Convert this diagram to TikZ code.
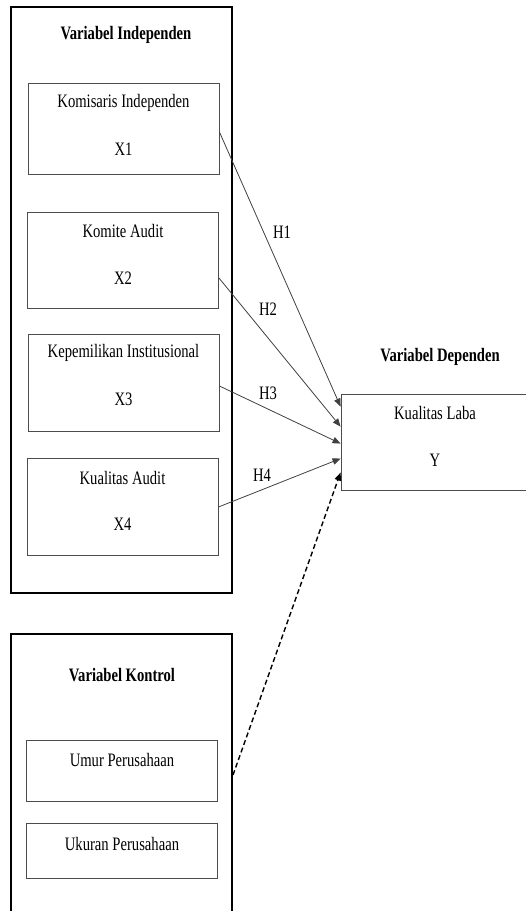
\documentclass[tikz,border=0pt]{standalone}
\usepackage{fontspec}
\setmainfont[FakeStretch=0.77]{Liberation Serif}
\usetikzlibrary{arrows.meta}
\begin{document}
\begin{tikzpicture}[x=1pt,y=-1pt,
  outerbox/.style={draw=black,line width=2pt,minimum width=221pt,inner sep=0pt},
  varbox/.style={draw=black!70,line width=0.9pt,minimum width=191pt,inner sep=0pt},
  txt/.style={inner sep=0pt,font=\fontsize{19}{22}\selectfont},
  ttl/.style={inner sep=0pt,font=\fontsize{19}{22}\selectfont\bfseries},
  arr/.style={draw=black!75,line width=0.8pt,-{Triangle[length=8pt,width=6.5pt]}},
  darr/.style={draw=black,line width=1.4pt,dash pattern=on 5pt off 3pt,-{Triangle[length=8pt,width=6.5pt]}}
]
\useasboundingbox (0,0) rectangle (526,911);
\clip (0,0) rectangle (526,911);

% Variabel Independen
\node[outerbox,minimum height=586pt] (ind) at (121.5,300) {};
\node[ttl] (indt) at (126,35) {Variabel Independen};

\node[varbox,minimum height=91pt] (x1) at (123.5,128.5) {};
\node[txt] (x1a) at (123.5,103) {Komisaris Independen};
\node[txt] (x1b) at (123.5,149) {X1};

\node[varbox,minimum height=96pt] (x2) at (123,260) {};
\node[txt] (x2a) at (123,231) {Komite Audit};
\node[txt] (x2b) at (123,278) {X2};

\node[varbox,minimum height=97pt] (x3) at (123.5,382.5) {};
\node[txt] (x3a) at (123.5,353) {Kepemilikan Institusional};
\node[txt] (x3b) at (123.5,399) {X3};

\node[varbox,minimum height=97pt] (x4) at (122.5,506.5) {};
\node[txt] (x4a) at (122.5,478) {Kualitas Audit};
\node[txt] (x4b) at (122.5,524) {X4};

% Variabel Kontrol
\node[outerbox,minimum height=300pt] (kon) at (121.5,784) {};
\node[ttl] (kont) at (122,675) {Variabel Kontrol};
\node[varbox,minimum height=61pt] (k1) at (122,770.5) {};
\node[txt] (k1a) at (122,760) {Umur Perusahaan};
\node[varbox,minimum height=55pt] (k2) at (122,850.5) {};
\node[txt] (k2a) at (122,844) {Ukuran Perusahaan};

% Variabel Dependen
\node[ttl] (dept) at (440,357) {Variabel Dependen};
\node[varbox,minimum width=200pt,minimum height=96pt] (dep) at (441,442) {};
\node[txt] (depa) at (435,413) {Kualitas Laba};
\node[txt] (depb) at (435,460) {Y};

% arrows
\draw[arr] ([yshift=-3.5pt]x1.east) -- ([yshift=-13pt]dep.north west) node[pos=0.4,coordinate] (m1) {};
\draw[arr] ([yshift=-18pt]x2.east) -- ([yshift=-33pt]dep.north west);
\draw[arr] ([yshift=-3.5pt]x3.east) -- ([yshift=-50pt]dep.north west);
\draw[arr] ([yshift=-0.5pt]x4.east) -- ([yshift=-65pt]dep.north west);
\draw[darr] ([yshift=9pt]kon.east) -- ([yshift=-79pt]dep.north west);

\node[txt] (h1) at (282,232) {H1};
\node[txt] (h2) at (268,309) {H2};
\node[txt] (h3) at (268,393) {H3};
\node[txt] (h4) at (262,475) {H4};
\end{tikzpicture}
\end{document}
